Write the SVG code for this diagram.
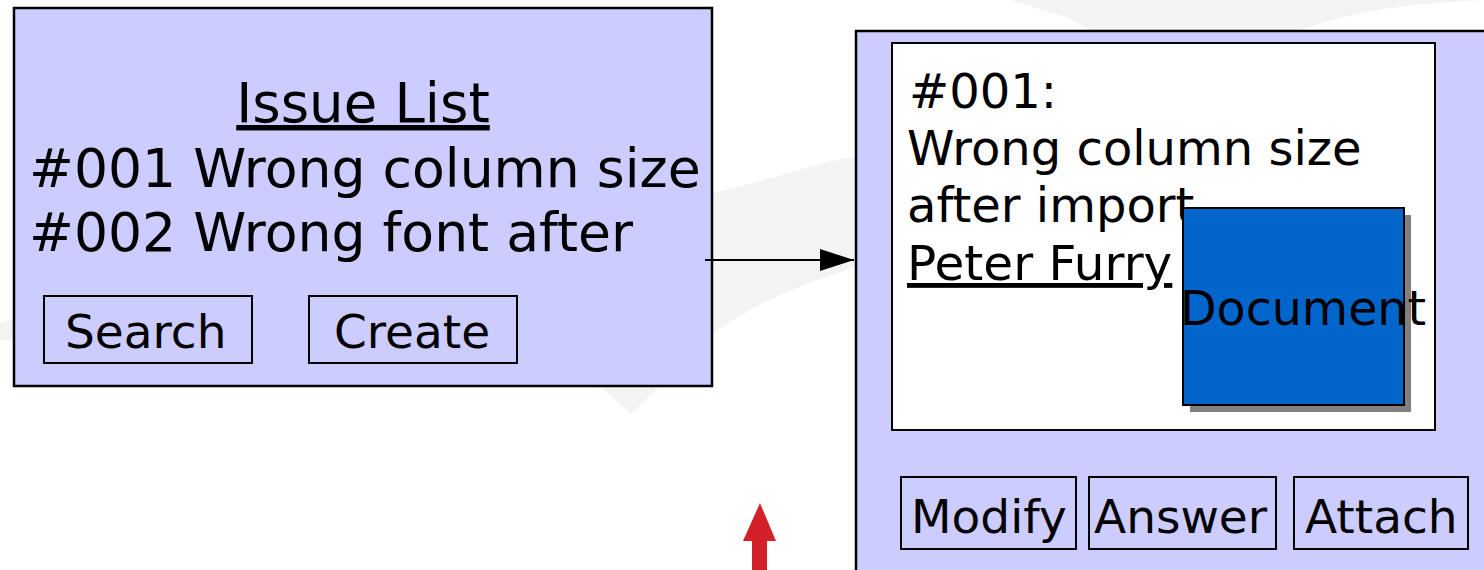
<svg xmlns="http://www.w3.org/2000/svg" width="1484" height="570" viewBox="0 0 1484 570">
  <defs>
    <style>
      .t { font-family: "DejaVu Sans", Verdana, sans-serif; fill: #000; }
      .panel { fill: #ccccff; stroke: #000; stroke-width: 2.5; }
      .btn { fill: #ccccff; stroke: #000; stroke-width: 2; }
      .wm { fill: #f3f3f3; stroke: none; }
    </style>
    <marker id="arrowhead" markerWidth="34" markerHeight="22" refX="34" refY="11" orient="auto" markerUnits="userSpaceOnUse">
      <path d="M0,0 L34,11 L0,22 Z" fill="#000"/>
    </marker>
  </defs>
  <rect width="1484" height="570" fill="#fff"/>
  <g id="watermark">
    <path class="wm" d="M0,323 C250,270 500,205 713,193 C780,178 820,160 870,155 L870,262 C800,285 760,300 713,333 L631,414 L602,388 C400,370 200,352 0,340 Z"/>
    <path class="wm" d="M1010,0 L1069,18 L1100,36 L1287,36 C1320,20 1380,4 1484,0 Z"/>
  </g>
  <g id="issue-list">
    <rect class="panel" x="14" y="8" width="698" height="378"/>
    <text class="t" x="363" y="122" font-size="54.5" text-anchor="middle" text-decoration="underline">Issue List</text>
    <text class="t" x="29" y="187" font-size="53.6">#001 Wrong column size</text>
    <text class="t" x="29" y="251" font-size="53.6">#002 Wrong font after</text>
  </g>
  <g id="btn-search">
    <rect class="btn" x="44" y="296" width="208" height="67"/>
    <text class="t" x="65" y="348" font-size="47">Search</text>
  </g>
  <g id="btn-create">
    <rect class="btn" x="309" y="296" width="208" height="67"/>
    <text class="t" x="334" y="348" font-size="47">Create</text>
  </g>
  <g id="issue-detail">
    <rect class="panel" x="856" y="31" width="700" height="600"/>
    <rect x="892" y="43" width="543" height="387" fill="#fff" stroke="#000" stroke-width="2"/>
    <text class="t" x="909" y="108" font-size="48">#001:</text>
    <text class="t" x="907" y="165" font-size="48">Wrong column size</text>
    <text class="t" x="907" y="222" font-size="48">after import</text>
    <text class="t" x="907" y="280" font-size="48.5" text-decoration="underline">Peter Furry</text>
  </g>
  <g id="document">
    <rect x="1190" y="215" width="221" height="197" fill="#808080"/>
    <rect x="1183" y="208" width="221" height="197" fill="#0066cc" stroke="#000" stroke-width="2"/>
    <text class="t" x="1180" y="325" font-size="47.5">Document</text>
  </g>
  <g id="btn-modify">
    <rect class="btn" x="901" y="477" width="175" height="72"/>
    <text class="t" x="911" y="533" font-size="47">Modify</text>
  </g>
  <g id="btn-answer">
    <rect class="btn" x="1089" y="477" width="187" height="72"/>
    <text class="t" x="1094" y="533" font-size="47">Answer</text>
  </g>
  <g id="btn-attach">
    <rect class="btn" x="1294" y="477" width="174" height="72"/>
    <text class="t" x="1305" y="533" font-size="47">Attach</text>
  </g>
  <g id="connectors">
    <line x1="705" y1="260" x2="854" y2="260" stroke="#000" stroke-width="2" marker-end="url(#arrowhead)"/>
    <path d="M760,503 L776,541 L767,541 L767,570 L752,570 L752,541 L743,541 Z" fill="#d3212a"/>
  </g>
</svg>
